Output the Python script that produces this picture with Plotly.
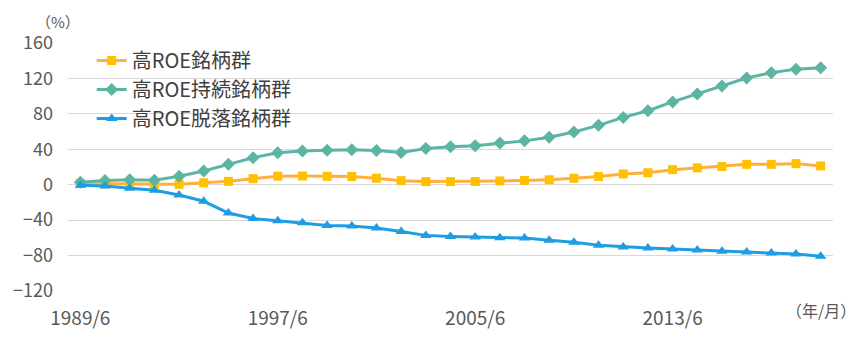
import plotly.graph_objects as go

categories = ["1989/6", "1990/6", "1991/6", "1992/6", "1993/6", "1994/6", "1995/6", "1996/6",
              "1997/6", "1998/6", "1999/6", "2000/6", "2001/6", "2002/6", "2003/6", "2004/6",
              "2005/6", "2006/6", "2007/6", "2008/6", "2009/6", "2010/6", "2011/6", "2012/6",
              "2013/6", "2014/6", "2015/6", "2016/6", "2017/6", "2018/6", "2019/6"]
tick_labels = ["1989/6", "1997/6", "2005/6", "2013/6"]

high_roe = [1.5, 1.2, 0.6, 0.3, 0.4, 2.2, 3.8, 6.8, 9.6, 9.8, 9.5, 9.3, 7.3, 4.6, 3.5, 3.5,
            3.6, 4.3, 4.8, 5.6, 7.3, 9.3, 12.2, 13.5, 17.0, 19.0, 20.5, 23.0, 23.0, 23.8, 21.2]
high_roe_keep = [2.9, 4.8, 5.5, 5.1, 9.5, 15.5, 23.0, 30.5, 36.0, 38.0, 39.0, 39.5, 38.5, 36.5,
                 41.0, 43.0, 44.0, 47.0, 49.5, 53.5, 59.5, 67.0, 76.0, 83.5, 93.5, 102.5,
                 111.5, 120.5, 126.5, 130.5, 132.0]
high_roe_drop = [-0.7, -1.5, -4.0, -6.2, -11.7, -18.7, -32.0, -38.2, -40.7, -43.0, -46.0, -46.5,
                 -49.0, -52.8, -57.2, -58.4, -59.1, -59.8, -60.3, -62.8, -65.0, -68.4, -70.3,
                 -71.4, -72.5, -73.6, -75.0, -76.0, -77.2, -78.3, -80.7]

names = ["高ROE銘柄群", "高ROE持続銘柄群", "高ROE脱落銘柄群"]
FONT = "Noto Sans CJK JP"

fig = go.Figure()
fig.add_trace(go.Scatter(x=categories, y=high_roe, name=names[0], mode="lines+markers",
                         line=dict(color="#FFAF40", width=3),
                         marker=dict(symbol="square", size=9, color="#FFC000")))
fig.add_trace(go.Scatter(x=categories, y=high_roe_keep, name=names[1], mode="lines+markers",
                         line=dict(color="#5BB5A2", width=3),
                         marker=dict(symbol="diamond", size=10, color="#5BB5A2")))
fig.add_trace(go.Scatter(x=categories, y=high_roe_drop, name=names[2], mode="lines+markers",
                         line=dict(color="#1E9DE3", width=3),
                         marker=dict(symbol="triangle-up", size=10, color="#1E9DE3")))

fig.update_layout(
    width=863, height=342,
    margin=dict(l=68, r=30, t=43, b=49),
    paper_bgcolor="white", plot_bgcolor="white",
    font=dict(family=FONT, color="#595959", size=18),
    showlegend=True,
    legend=dict(x=0.031, y=1.008, xanchor="left", yanchor="top",
                font=dict(size=20, color="#404040", family=FONT),
                bgcolor="rgba(0,0,0,0)", tracegroupgap=0, itemwidth=30),
    xaxis=dict(type="category", range=[-0.5, 30.5], tickmode="array",
               tickvals=tick_labels, ticktext=tick_labels, showgrid=False,
               showline=False, zeroline=False, ticks="", ticklabelstandoff=14,
               tickfont=dict(size=19, color="#595959")),
    yaxis=dict(range=[-120, 160], tickvals=[-120, -80, -40, 0, 40, 80, 120, 160],
               showgrid=True, gridcolor="#D9D9D9", gridwidth=1, zeroline=False,
               showline=False, ticks="", ticklabelstandoff=14,
               tickfont=dict(size=18, color="#595959")),
    annotations=[
        dict(text="（%）", xref="paper", yref="paper", x=(58 - 68) / 765, y=(293.3 - 21) / 250.6,
             xanchor="center", yanchor="middle", showarrow=False,
             font=dict(size=15, color="#595959", family=FONT)),
        dict(text="（年/月）", xref="paper", yref="paper", x=(821 - 68) / 765, y=(293.3 - 313) / 250.6,
             xanchor="center", yanchor="middle", showarrow=False,
             font=dict(size=16, color="#595959", family=FONT)),
    ],
)

fig.write_html("out.html")
